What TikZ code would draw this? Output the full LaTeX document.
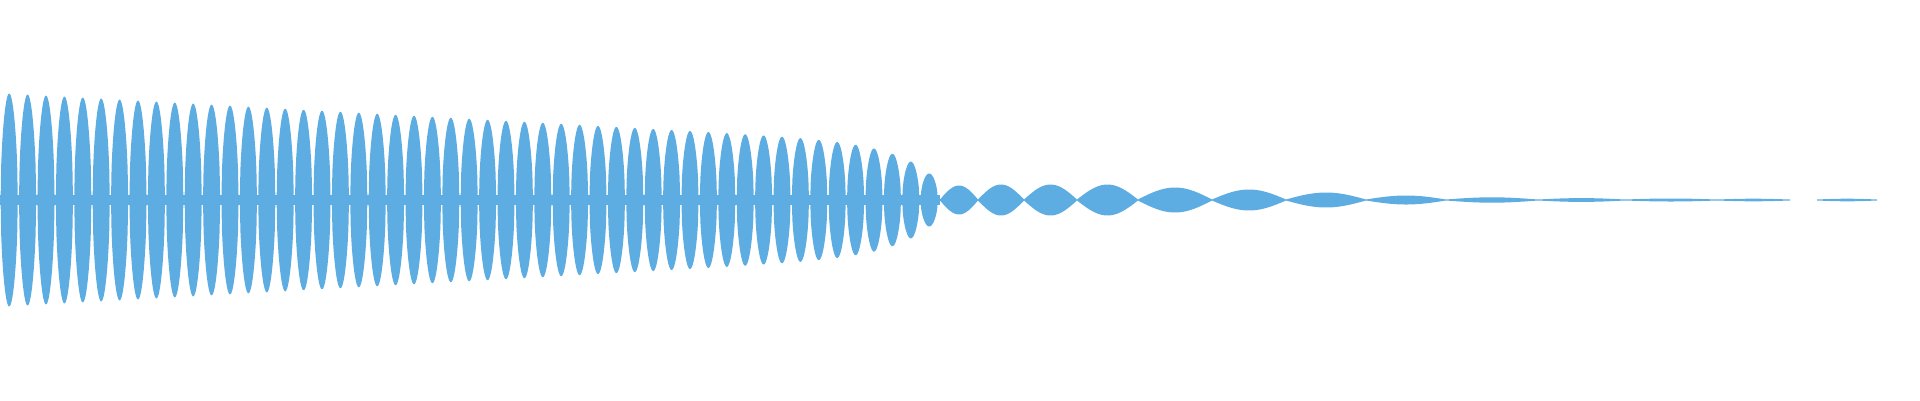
\documentclass[tikz,border=0pt]{standalone}
\definecolor{wave}{RGB}{93,173,226}
\begin{document}
\begin{tikzpicture}[x=1pt,y=-1pt]
\useasboundingbox (0,0) rectangle (1920,400);
% central band of the dense part
\fill[wave] (0,195) rectangle (940,205);
% dense lobes
\foreach \k in {0,...,50}{
  \pgfmathsetmacro{\c}{9.2+18.4*\k}
  \pgfmathsetmacro{\A}{107-0.055*\c-30*exp((\c-930)/40)}
  \fill[wave] plot[domain=0:180,samples=30] ({\c-8.6+17.2*(\x/180)},{200-\A*sqrt(sin(\x))})
     -- plot[domain=180:0,samples=30] ({\c-8.6+17.2*(\x/180)},{200+\A*sqrt(sin(\x))}) -- cycle;
}
% lens lobes
\foreach \a/\b/\A in {940/978/14,978/1024/15,1024/1077/15,1077/1138/15,1138/1212/12,1212/1286/10,1286/1366/7,1366/1446/4,1446/1538/2.2,1538/1625/1.4,1625/1717/1,1717/1790/0.8,1817/1877/0.8}{
  \fill[wave] plot[domain=0:180,samples=30] ({\a+(\b-\a)*(\x/180)},{200-\A*sin(\x)-0.5})
     -- plot[domain=180:0,samples=30] ({\a+(\b-\a)*(\x/180)},{200+\A*sin(\x)+0.5}) -- cycle;
}
\end{tikzpicture}
\end{document}
